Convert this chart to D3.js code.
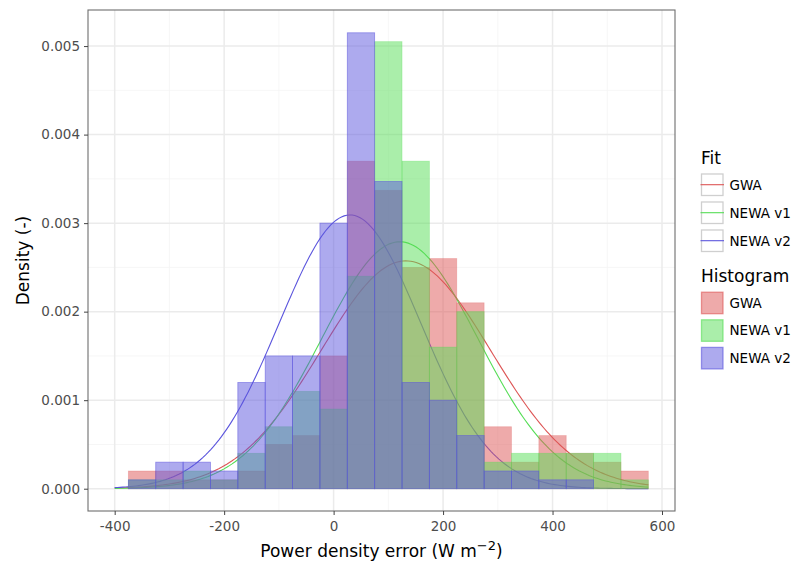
<!DOCTYPE html>
<html>
<head>
<meta charset="utf-8">
<script src="https://cdn.jsdelivr.net/npm/d3@7"></script>
<style>
  body { margin: 0; background: #fff; }
  text { font-family: "DejaVu Sans", sans-serif; }
</style>
</head>
<body>
<div id="chart"></div>
<script>
var width = 795, height = 564;

// histogram bins (centre of 50-wide bins), densities
var binCenters = [-350, -300, -250, -200, -150, -100, -50, 0, 50, 100, 150, 200, 250, 300, 350, 400, 450, 500, 550];
var gwaDensity = [0.0002, 0.0002, 0.0001, 0.0001, 0.0002, 0.0005, 0.0006, 0.0015, 0.0037, 0.00337, 0.0025, 0.0026, 0.0021, 0.0007, 0.0003, 0.0006, 0.0004, 0.0003, 0.0002];
var newa1Density = [0.0001, 0.0001, 0.0002, 0.0001, 0.0004, 0.0007, 0.0011, 0.0009, 0.0024, 0.00505, 0.0037, 0.0016, 0.0020, 0.0003, 0.0004, 0.0004, 0.0004, 0.0004, 0.0001];
var newa2Density = [0.0001, 0.0003, 0.0003, 0.0002, 0.0012, 0.0015, 0.0015, 0.0030, 0.00515, 0.00347, 0.0012, 0.0010, 0.0006, 0.0002, 0.0002, 0.0001, 0.0001, 0, 0];

// normal fits (mean, sd)
var seriesNames = ['GWA', 'NEWA v1', 'NEWA v2'];
var fitMean = [132, 121, 30];
var fitSd = [155, 143, 129];
var fitRange = [-400, 575];

var xTicks = [-400, -200, 0, 200, 400, 600];
var xMinor = [-300, -100, 100, 300, 500];
var yTicks = [0, 0.001, 0.002, 0.003, 0.004, 0.005];
var yMinor = [0.0005, 0.0015, 0.0025, 0.0035, 0.0045];

var colors = ['#dd5555', '#55dd55', '#5b55dd'];
var outlineOpacity = [0.3, 0.35, 0.6];
var densities = [gwaDensity, newa1Density, newa2Density];

var padL = 88, padR = 675, padT = 10, padB = 511;

var svg = d3.select('#chart').append('svg')
  .attr('width', width)
  .attr('height', height);

var x = d3.scaleLinear().domain([-448.75, 623.75]).range([padL, padR]);
var y = d3.scaleLinear().domain([-0.0002575, 0.0054075]).range([padB + 0.5, padT]);

// grid
var grid = svg.append('g');
grid.selectAll('line.xminor').data(xMinor).enter().append('line')
  .attr('x1', x).attr('x2', x).attr('y1', padT).attr('y2', padB)
  .attr('stroke', '#f4f4f4').attr('stroke-width', 0.8);
grid.selectAll('line.yminor').data(yMinor).enter().append('line')
  .attr('y1', y).attr('y2', y).attr('x1', padL).attr('x2', padR)
  .attr('stroke', '#f4f4f4').attr('stroke-width', 0.8);
grid.selectAll('line.xmajor').data(xTicks).enter().append('line')
  .attr('x1', x).attr('x2', x).attr('y1', padT).attr('y2', padB)
  .attr('stroke', '#ebebeb').attr('stroke-width', 1.5);
grid.selectAll('line.ymajor').data(yTicks).enter().append('line')
  .attr('y1', y).attr('y2', y).attr('x1', padL).attr('x2', padR)
  .attr('stroke', '#ebebeb').attr('stroke-width', 1.5);

// fit lines (drawn under the histograms)
var line = d3.line()
  .x(function(d) { return x(d[0]); })
  .y(function(d) { return y(d[1]); });

function fitPoints(i) {
  var pts = [];
  var n = 200;
  for (var k = 0; k <= n; k++) {
    var v = fitRange[0] + (fitRange[1] - fitRange[0]) * k / n;
    var z = (v - fitMean[i]) / fitSd[i];
    pts.push([v, Math.exp(-0.5 * z * z) / (fitSd[i] * Math.sqrt(2 * Math.PI))]);
  }
  return pts;
}

var fitLayer = svg.append('g');
seriesNames.forEach(function(name, i) {
  fitLayer.append('path')
    .attr('d', line(fitPoints(i)))
    .attr('fill', 'none')
    .attr('stroke', colors[i])
    .attr('stroke-width', 1.1);
});

// histograms
var histLayer = svg.append('g');
seriesNames.forEach(function(name, i) {
  var bins = binCenters.map(function(c, j) { return { c: c, v: densities[i][j] }; });
  histLayer.append('g').selectAll('rect').data(bins)
    .enter().append('rect')
    .attr('x', function(d) { return x(d.c - 25); })
    .attr('width', function(d) { return x(d.c + 25) - x(d.c - 25); })
    .attr('y', function(d) { return y(d.v); })
    .attr('height', function(d) { return y(0) - y(d.v); })
    .attr('fill', colors[i])
    .attr('fill-opacity', 0.5)
    .attr('stroke', colors[i])
    .attr('stroke-opacity', outlineOpacity[i])
    .attr('stroke-width', 0.8);
});

// panel border
svg.append('rect')
  .attr('x', padL).attr('y', padT)
  .attr('width', padR - padL).attr('height', padB - padT)
  .attr('fill', 'none').attr('stroke', '#6e6e6e').attr('stroke-width', 1.1);

// axes
var xAxis = svg.append('g')
  .attr('transform', 'translate(0,' + padB + ')')
  .call(d3.axisBottom(x).tickValues(xTicks).tickSize(4).tickPadding(4)
    .tickFormat(function(d) { return String(d); }));
var yAxis = svg.append('g')
  .attr('transform', 'translate(' + padL + ',0)')
  .call(d3.axisLeft(y).tickValues(yTicks).tickSize(4).tickPadding(4)
    .tickFormat(function(d) { return d.toFixed(3); }));
[xAxis, yAxis].forEach(function(a) {
  a.select('.domain').remove();
  a.selectAll('.tick line').attr('stroke', '#444').attr('stroke-width', 1);
  a.selectAll('.tick text').attr('fill', '#4d4d4d')
    .style('font-size', '13.5px').style('font-family', '"DejaVu Sans", sans-serif');
});
xAxis.selectAll('.tick text').attr('dy', '0.9em');

// axis titles
var xt = svg.append('text')
  .attr('x', (padL + padR) / 2).attr('y', 557)
  .attr('text-anchor', 'middle')
  .style('font-size', '17px');
xt.append('tspan').text('Power density error (W m');
xt.append('tspan').attr('dy', -7).style('font-size', '13px').text('\u22122');
xt.append('tspan').attr('dy', 7).text(')');

svg.append('text')
  .attr('transform', 'translate(29,' + ((padT + padB) / 2) + ') rotate(-90)')
  .attr('text-anchor', 'middle')
  .style('font-size', '17px')
  .text('Density (-)');

// legends
var legend = svg.append('g').attr('transform', 'translate(701,0)');
legend.append('text').attr('x', 0).attr('y', 164).style('font-size', '17px').text('Fit');
var fitKeys = legend.selectAll('g.fit').data(seriesNames).enter().append('g')
  .attr('transform', function(d, i) { return 'translate(0,' + (173.5 + i * 28) + ')'; });
fitKeys.append('rect')
  .attr('x', 0.5).attr('y', 0.5).attr('width', 21.5).attr('height', 21.5)
  .attr('fill', '#fff').attr('stroke', '#cfcfcf').attr('stroke-width', 1.3);
fitKeys.append('line')
  .attr('x1', -0.5).attr('x2', 23).attr('y1', 11.2).attr('y2', 11.2)
  .attr('stroke', function(d, i) { return colors[i]; }).attr('stroke-width', 1.1);
fitKeys.append('text')
  .attr('x', 28.5).attr('y', 11.2).attr('dy', '0.36em')
  .style('font-size', '13.5px').text(function(d) { return d; });

legend.append('text').attr('x', 0).attr('y', 282).style('font-size', '17px').text('Histogram');
var histKeys = legend.selectAll('g.hist').data(seriesNames).enter().append('g')
  .attr('transform', function(d, i) { return 'translate(0,' + (291.7 + i * 27.6) + ')'; });
histKeys.append('rect')
  .attr('x', 0.5).attr('y', 0.5).attr('width', 21.5).attr('height', 21.5)
  .attr('fill', function(d, i) { return colors[i]; }).attr('fill-opacity', 0.5)
  .attr('stroke', function(d, i) { return colors[i]; }).attr('stroke-opacity', 0.6).attr('stroke-width', 1.3);
histKeys.append('text')
  .attr('x', 28.5).attr('y', 11.2).attr('dy', '0.36em')
  .style('font-size', '13.5px').text(function(d) { return d; });
</script>
</body>
</html>
